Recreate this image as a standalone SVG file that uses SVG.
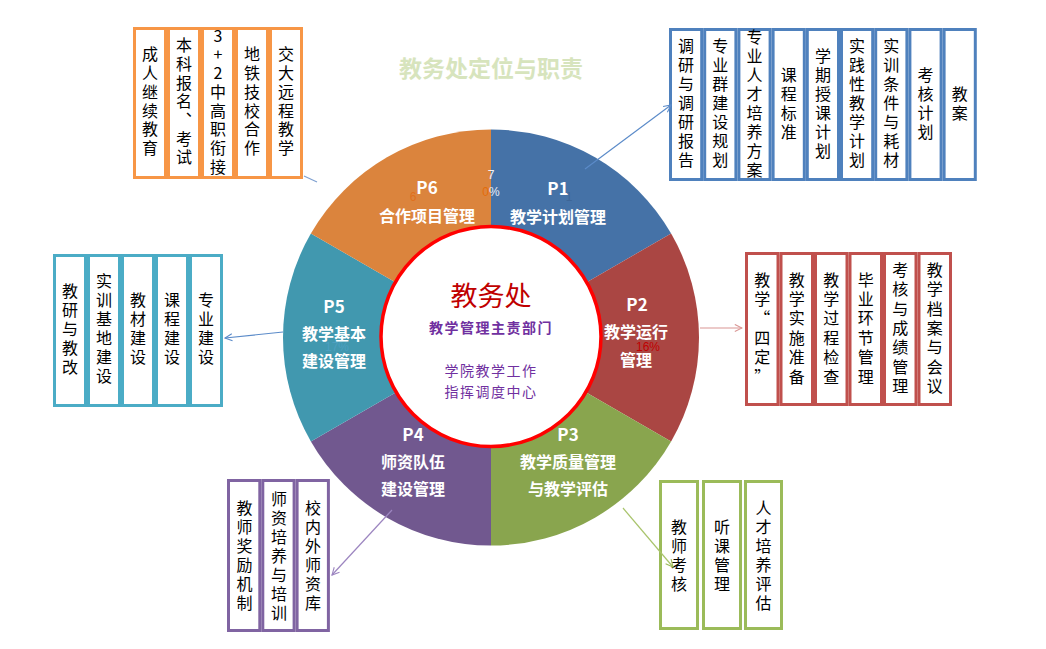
<svg xmlns="http://www.w3.org/2000/svg" width="1046" height="649" viewBox="0 0 1046 649">
<style>
.bx rect{fill:#fff;stroke-width:3}
.bx text{font-family:"Noto Sans CJK SC","Noto Sans",sans-serif;font-size:16px;fill:#000;text-anchor:middle;writing-mode:vertical-rl;text-orientation:upright;letter-spacing:3px;font-feature-settings:"vert" 0}
.or text{letter-spacing:2.7px}.rd text{letter-spacing:3.4px}
.or rect{stroke:#F79646}.bl rect{stroke:#4F81BD}.rd rect{stroke:#C0504D}
.tl rect{stroke:#4BACC6}.pu rect{stroke:#8064A2}.gr rect{stroke:#9BBB59}
.lbl{font-family:"Noto Sans CJK SC","Noto Sans",sans-serif;fill:#fff;font-weight:bold;text-anchor:middle;dominant-baseline:central}
.pn{font-size:17px}.pt{font-size:16px}
.sm{font-family:"Liberation Sans",sans-serif;font-size:12px;text-anchor:middle;dominant-baseline:central}
.cn{fill:none;stroke-width:1.2}
</style>
<defs>
<marker id="aB" viewBox="0 0 10 10" refX="9" refY="5" markerWidth="9" markerHeight="9" orient="auto" markerUnits="userSpaceOnUse"><path d="M1,1 L9,5 L1,9" fill="none" stroke="#5B8BC9" stroke-width="1.2"/></marker>
<marker id="aR" viewBox="0 0 10 10" refX="9" refY="5" markerWidth="9" markerHeight="9" orient="auto" markerUnits="userSpaceOnUse"><path d="M1,1 L9,5 L1,9" fill="none" stroke="#D99694" stroke-width="1.2"/></marker>
<marker id="aG" viewBox="0 0 10 10" refX="9" refY="5" markerWidth="9" markerHeight="9" orient="auto" markerUnits="userSpaceOnUse"><path d="M1,1 L9,5 L1,9" fill="none" stroke="#9BBB59" stroke-width="1.2"/></marker>
<marker id="aP" viewBox="0 0 10 10" refX="9" refY="5" markerWidth="9" markerHeight="9" orient="auto" markerUnits="userSpaceOnUse"><path d="M1,1 L9,5 L1,9" fill="none" stroke="#9C85C0" stroke-width="1.2"/></marker>
</defs>
<rect width="1046" height="649" fill="#fff"/>
<text x="491" y="67" font-family="Noto Sans CJK SC,sans-serif" font-size="23" font-weight="bold" fill="#D7E4BD" text-anchor="middle" dominant-baseline="central">教务处定位与职责</text>

<g id="pie">
<path d="M491,337.5 L491,129.5 A208,208 0 0 1 671.13,233.5 Z" fill="#4572A7"/>
<path d="M491,337.5 L671.13,233.5 A208,208 0 0 1 671.13,441.5 Z" fill="#AA4643"/>
<path d="M491,337.5 L671.13,441.5 A208,208 0 0 1 491,545.5 Z" fill="#89A54E"/>
<path d="M491,337.5 L491,545.5 A208,208 0 0 1 310.87,441.5 Z" fill="#71588F"/>
<path d="M491,337.5 L310.87,441.5 A208,208 0 0 1 310.87,233.5 Z" fill="#4198AF"/>
<path d="M491,337.5 L310.87,233.5 A208,208 0 0 1 491,129.5 Z" fill="#DB843D"/>
</g>
<g id="p1"><text class="lbl pn" x="558" y="187">P1</text><text class="lbl pt" x="558" y="216">教学计划管理</text><text class="sm" x="569" y="197" fill="#3E6596">1</text></g>
<g id="p2"><text class="lbl pn" x="637" y="303">P2</text><text class="lbl pt" x="636" y="331">教学运行</text><text class="lbl pt" x="636" y="359">管理</text><text class="sm" x="648" y="347" fill="#C00000">16%</text></g>
<g id="p3"><text class="lbl pn" x="568" y="433">P3</text><text class="lbl pt" x="568" y="461">教学质量管理</text><text class="lbl pt" x="568" y="488">与教学评估</text></g>
<g id="p4"><text class="lbl pn" x="413" y="433">P4</text><text class="lbl pt" x="413" y="461">师资队伍</text><text class="lbl pt" x="413" y="488">建设管理</text></g>
<g id="p5"><text class="sm" x="337" y="347" fill="#4C9FC0">17%</text><text class="lbl pn" x="334" y="305">P5</text><text class="lbl pt" x="334" y="333">教学基本</text><text class="lbl pt" x="334" y="360">建设管理</text></g>
<g id="p6"><text class="lbl pn" x="427" y="186">P6</text><text class="sm" x="413" y="197" fill="#E0701E">6</text><text class="lbl pt" x="427" y="215">合作项目管理</text><text class="sm" x="491" y="175" fill="#F2F2F2">7</text><text class="sm" x="491" y="192"><tspan fill="#E46C0A">0</tspan><tspan fill="#E8ECF4">%</tspan></text></g>

<g id="center">
<circle cx="491" cy="336.5" r="110" fill="#fff" stroke="#FF0000" stroke-width="3.5"/>
<text x="491" y="294" font-family="Noto Sans CJK SC,sans-serif" font-size="27" fill="#C00000" text-anchor="middle" dominant-baseline="central">教务处</text>
<text x="491" y="327" font-family="Noto Sans CJK SC,sans-serif" font-size="14" font-weight="bold" letter-spacing="1.5" fill="#7030A0" text-anchor="middle" dominant-baseline="central">教学管理主责部门</text>
<text x="491" y="370" font-family="Noto Sans CJK SC,sans-serif" font-size="14" letter-spacing="1.5" fill="#7030A0" text-anchor="middle" dominant-baseline="central">学院教学工作</text>
<text x="491" y="391" font-family="Noto Sans CJK SC,sans-serif" font-size="14" letter-spacing="1.5" fill="#7030A0" text-anchor="middle" dominant-baseline="central">指挥调度中心</text>
</g>

<g id="boxes-p6" class="bx or">
<rect x="134.5" y="28.5" width="31" height="149"/><rect x="168.5" y="28.5" width="31" height="149"/><rect x="202.5" y="28.5" width="31" height="149"/><rect x="236.5" y="28.5" width="31" height="149"/><rect x="270.5" y="28.5" width="31" height="149"/>
<text x="150" y="102.5">成人继续教育</text>
<text x="184" y="102.5">本科报名、考试</text>
<text x="218" y="102.5">3+2中高职衔接</text>
<text x="252" y="102.5">地铁技校合作</text>
<text x="286" y="102.5">交大远程教学</text>
</g>

<g id="boxes-p1" class="bx bl">
<rect x="670.5" y="29.5" width="31.2" height="150"/><rect x="704.7" y="29.5" width="31.2" height="150"/><rect x="738.9" y="29.5" width="31.2" height="150"/><rect x="773.1" y="29.5" width="31.2" height="150"/><rect x="807.3" y="29.5" width="31.2" height="150"/><rect x="841.5" y="29.5" width="31.2" height="150"/><rect x="875.7" y="29.5" width="31.2" height="150"/><rect x="909.9" y="29.5" width="31.2" height="150"/><rect x="944.1" y="29.5" width="31.2" height="150"/>
<text x="686.1" y="104.5">调研与调研报告</text>
<text x="720.3" y="104.5">专业群建设规划</text>
<text x="754.5" y="104.5">专业人才培养方案</text>
<text x="788.7" y="104.5">课程标准</text>
<text x="822.9" y="104.5">学期授课计划</text>
<text x="857.1" y="104.5">实践性教学计划</text>
<text x="891.3" y="104.5">实训条件与耗材</text>
<text x="925.5" y="104.5">考核计划</text>
<text x="959.7" y="104.5">教案</text>
</g>

<g id="boxes-p2" class="bx rd">
<rect x="746.5" y="253.5" width="31.5" height="151"/><rect x="781" y="253.5" width="31.5" height="151"/><rect x="815.5" y="253.5" width="31.5" height="151"/><rect x="850" y="253.5" width="31.5" height="151"/><rect x="884.5" y="253.5" width="31.5" height="151"/><rect x="919" y="253.5" width="31.5" height="151"/>
<text x="762.3" y="329.7">教学“四定”</text>
<text x="796.8" y="329.7">教学实施准备</text>
<text x="831.3" y="329.7">教学过程检查</text>
<text x="865.8" y="329.7">毕业环节管理</text>
<text x="900.3" y="329.7">考核与成绩管理</text>
<text x="934.8" y="329.7">教学档案与会议</text>
</g>

<g id="boxes-p5" class="bx tl">
<rect x="54.5" y="255.5" width="31" height="150"/><rect x="88.5" y="255.5" width="31" height="150"/><rect x="122.5" y="255.5" width="31" height="150"/><rect x="156.5" y="255.5" width="31" height="150"/><rect x="190.5" y="255.5" width="31" height="150"/>
<text x="70" y="330">教研与教改</text>
<text x="104" y="330">实训基地建设</text>
<text x="138" y="330">教材建设</text>
<text x="172" y="330">课程建设</text>
<text x="206" y="330">专业建设</text>
</g>

<g id="boxes-p4" class="bx pu">
<rect x="228.5" y="480.5" width="31.3" height="150"/><rect x="262.8" y="480.5" width="31.3" height="150"/><rect x="297.1" y="480.5" width="31.3" height="150"/>
<text x="244.5" y="557">教师奖励机制</text>
<text x="279" y="557">师资培养与培训</text>
<text x="313" y="557">校内外师资库</text>
</g>

<g id="boxes-p3" class="bx gr">
<rect x="660.5" y="481.5" width="37" height="147"/><rect x="703.5" y="481.5" width="37" height="147"/><rect x="745.5" y="481.5" width="36" height="147"/>
<text x="679" y="556.5">教师考核</text>
<text x="722" y="556.5">听课管理</text>
<text x="763.5" y="556.5">人才培养评估</text>
</g>

<g id="connectors">
<line class="cn" x1="585" y1="169" x2="671" y2="105" stroke="#5B8BC9" marker-end="url(#aB)"/>
<line class="cn" x1="700" y1="328" x2="742" y2="328" stroke="#D99694" marker-end="url(#aR)"/>
<line class="cn" x1="623" y1="508" x2="673" y2="567" stroke="#A9C46C" marker-end="url(#aG)"/>
<line class="cn" x1="392" y1="510" x2="332" y2="575" stroke="#9C85C0" marker-end="url(#aP)"/>
<line class="cn" x1="283" y1="332" x2="225" y2="338" stroke="#5B8BC9" marker-end="url(#aB)"/>
<line class="cn" x1="304" y1="176" x2="317" y2="182" stroke="#7FA0D0"/>
</g>
</svg>
